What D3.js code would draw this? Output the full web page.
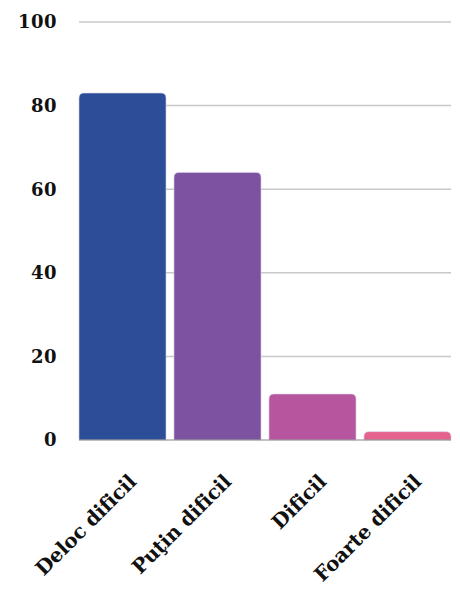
<!DOCTYPE html>
<html><head><meta charset="utf-8">
<script src="https://cdn.jsdelivr.net/npm/d3@7"></script>
<style>body{margin:0;background:#fff}svg text{font-family:"DejaVu Serif","Liberation Serif",serif;font-weight:bold;fill:#111}</style>
</head><body><svg id="c" width="460" height="589"></svg>
<script>
const categories = ["Deloc dificil", "Puţin dificil", "Dificil", "Foarte dificil"];
const values = [83, 64, 11, 2];
const colors = ["#2c4e98", "#7d52a1", "#b7559e", "#e5628e"];
const yTicks = [0, 20, 40, 60, 80, 100];

const svg = d3.select("#c");
const x = d3.scaleBand().domain(categories).range([79, 451]).paddingInner(0.084).paddingOuter(0);
const y = d3.scaleLinear().domain([0, 100]).range([440, 22]);

// gridlines
svg.append("g").selectAll("line").data(yTicks.filter(d => d > 0)).join("line")
  .attr("x1", 79).attr("x2", 451).attr("y1", d => y(d)).attr("y2", d => y(d))
  .attr("stroke", "#c8c8c8").attr("stroke-width", 1.5);

// y tick labels
svg.append("g").selectAll("text").data(yTicks).join("text")
  .attr("x", 57).attr("y", d => y(d)).attr("dy", "0.35em")
  .attr("text-anchor", "end").attr("font-size", 18).attr("letter-spacing", 0.5).text(d => d);

// bars with rounded top corners
const r = 5;
svg.append("g").selectAll("path").data(values).join("path")
  .attr("d", (d, i) => {
    const x0 = x(categories[i]), w = x.bandwidth(), y0 = y(d), y1 = y(0);
    const rr = Math.min(r, (y1 - y0));
    return `M${x0},${y1}V${y0 + rr}Q${x0},${y0} ${x0 + rr},${y0}H${x0 + w - rr}Q${x0 + w},${y0} ${x0 + w},${y0 + rr}V${y1}Z`;
  })
  .attr("fill", (d, i) => colors[i])
  .attr("stroke", "#d9d0e8").attr("stroke-width", 0.6);

// baseline
svg.append("line").attr("x1", 79).attr("x2", 451).attr("y1", y(0)).attr("y2", y(0))
  .attr("stroke", "#888").attr("stroke-width", 1.2);

// x labels rotated
svg.append("g").selectAll("text").data(categories).join("text")
  .attr("transform", d => `translate(${x(d) + x.bandwidth() / 2 + 15},${y(0) + 43}) rotate(-45)`)
  .attr("text-anchor", "end").attr("font-size", 20).attr("letter-spacing", -0.2).text(d => d);
</script></body></html>
